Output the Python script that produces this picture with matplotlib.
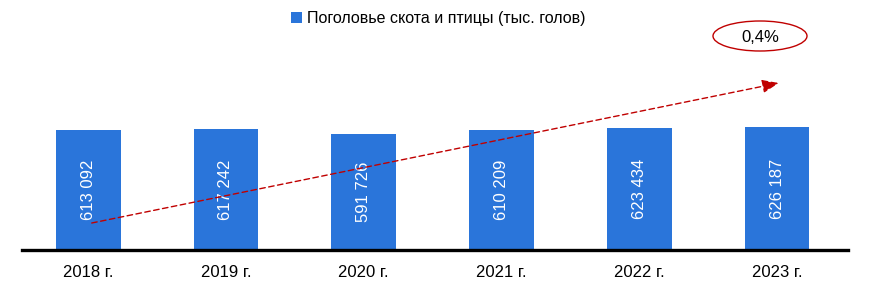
import matplotlib
matplotlib.use("Agg")
import matplotlib.pyplot as plt
from matplotlib.patches import Ellipse, Patch

plt.rcParams["font.family"] = ["Liberation Sans", "DejaVu Sans"]

YEARS = ["2018 г.", "2019 г.", "2020 г.", "2021 г.", "2022 г.", "2023 г."]
HEADCOUNT = [613092, 617242, 591726, 610209, 623434, 626187]
SERIES_NAME = "Поголовье скота и птицы (тыс. голов)"
GROWTH_LABEL = "0,4%"

BAR_COLOR = "#2A75DA"
ARROW_COLOR = "#C00000"


def fmt_thousands(v):
    return f"{v:,}".replace(",", " ")


def main():
    fig = plt.figure(figsize=(8.76, 3.03), dpi=100)
    ax = fig.add_axes([22 / 876, 53 / 303, 826 / 876, 196 / 303])

    x = list(range(len(YEARS)))
    bars = ax.bar(x, HEADCOUNT, width=0.47, color=BAR_COLOR, zorder=2)
    for rect, v in zip(bars, HEADCOUNT):
        ax.text(rect.get_x() + rect.get_width() / 2, v / 2, fmt_thousands(v),
                rotation=90, ha="center", va="center", color="white",
                fontsize=12, zorder=3)

    ax.set_xlim(-0.48, 5.515)
    ax.set_ylim(0, 1000000)
    ax.set_xticks(x)
    ax.set_xticklabels(YEARS, fontsize=12)
    ax.tick_params(axis="x", length=0, pad=11)
    ax.set_yticks([])
    for side in ("top", "right", "left"):
        ax.spines[side].set_visible(False)
    ax.spines["bottom"].set_linewidth(2.4)
    ax.spines["bottom"].set_color("black")

    # trend arrow
    ax.annotate("", xy=(0.889, 0.726), xycoords="figure fraction",
                xytext=(0.1047, 0.264), textcoords="figure fraction",
                arrowprops=dict(arrowstyle="-|>,head_length=1.0,head_width=0.4",
                                color=ARROW_COLOR, linestyle=(0, (4, 2.5)),
                                linewidth=1.0, shrinkA=0, shrinkB=0),
                zorder=4)

    ell = Ellipse((760 / 876, 1 - 36 / 303), 94 / 876, 30 / 303,
                  transform=fig.transFigure, facecolor="white",
                  edgecolor=ARROW_COLOR, linewidth=1.0)
    fig.patches.append(ell)
    fig.text(760 / 876, 1 - 37 / 303, GROWTH_LABEL, ha="center", va="center",
             fontsize=12, color="black")

    handle = Patch(facecolor=BAR_COLOR, edgecolor="none")
    fig.legend([handle], [SERIES_NAME], loc="upper center",
               bbox_to_anchor=(0.5, 1.01), frameon=False, fontsize=11.5,
               handlelength=0.7, handleheight=0.7, handletextpad=0.3)

    fig.savefig("out.png", dpi=100)
    plt.close(fig)


if __name__ == "__main__":
    main()
